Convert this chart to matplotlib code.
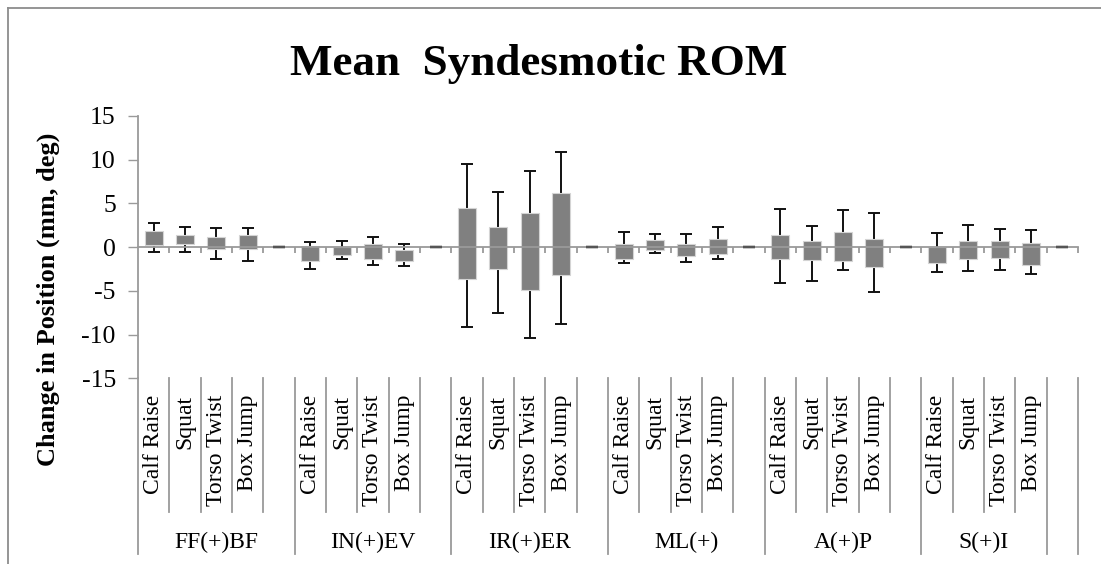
"""Mean syndesmotic ROM: floating range bars with error whiskers per motion/exercise."""
import matplotlib

matplotlib.use("Agg")
import matplotlib.pyplot as plt
import matplotlib.transforms as mtransforms
from matplotlib.lines import Line2D

plt.rcParams["font.family"] = ["Liberation Serif", "DejaVu Serif"]

EXERCISES = ["Calf Raise", "Squat", "Torso Twist", "Box Jump"]
MOTIONS = ["FF(+)BF", "IN(+)EV", "IR(+)ER", "ML(+)", "A(+)P", "S(+)I"]

# box top / bottom and whisker ends, one row per motion (mm, deg)
BAR_HIGH = [
    [1.84, 1.34, 1.11, 1.34],
    [0.12, 0.04, 0.35, -0.34],
    [4.45, 2.26, 3.87, 6.17],
    [0.35, 0.81, 0.38, 0.92],
    [1.38, 0.69, 1.77, 0.88],
    [0.04, 0.69, 0.73, 0.42],
]
BAR_LOW = [
    [0.23, 0.31, -0.26, -0.26],
    [-1.53, -0.88, -1.30, -1.61],
    [-3.67, -2.45, -4.90, -3.14],
    [-1.30, -0.34, -1.03, -0.77],
    [-1.34, -1.45, -1.53, -2.22],
    [-1.80, -1.34, -1.26, -1.99],
]
ERR_HIGH = [
    [2.76, 2.26, 2.19, 2.19],
    [0.61, 0.69, 1.15, 0.35],
    [9.54, 6.36, 8.70, 10.85],
    [1.69, 1.46, 1.50, 2.30],
    [4.37, 2.41, 4.22, 3.91],
    [1.65, 2.49, 2.03, 1.95],
]
ERR_LOW = [
    [-0.53, -0.61, -1.38, -1.64],
    [-2.45, -1.38, -2.03, -2.14],
    [-9.12, -7.55, -10.38, -8.77],
    [-1.84, -0.69, -1.72, -1.30],
    [-4.10, -3.83, -2.56, -5.09],
    [-2.83, -2.68, -2.64, -3.02],
]
Y_TICKS = [-15, -10, -5, 0, 5, 10, 15]

# category slots: 4 exercises + 1 blank per motion; last motion group only spans 4
SLOTS_PER_GROUP = 5
GROUP_EDGES = [0, 5, 10, 15, 20, 25, 29, 30]

BAR_COLOR = "#808080"
AXIS_GRAY = "#9a9a9a"
W, H = 1101, 564


def main():
    fig = plt.figure(figsize=(W / 100, H / 100), dpi=100)
    ax = fig.add_axes([138 / W, 1 - 378.3 / H, 940 / W, 262.3 / H])

    n_slots = SLOTS_PER_GROUP * len(MOTIONS)
    xs, lows, highs, elo, ehi, blanks = [], [], [], [], [], []
    for i in range(len(MOTIONS)):
        for j in range(len(EXERCISES)):
            xs.append(i * SLOTS_PER_GROUP + j)
            lows.append(BAR_LOW[i][j])
            highs.append(BAR_HIGH[i][j])
            elo.append(ERR_LOW[i][j])
            ehi.append(ERR_HIGH[i][j])
        blanks.append(i * SLOTS_PER_GROUP + len(EXERCISES))

    mids = [(a + b) / 2 for a, b in zip(lows, highs)]
    yerr = [[m - e for m, e in zip(mids, elo)], [e - m for m, e in zip(mids, ehi)]]
    ax.errorbar(xs, mids, yerr=yerr, fmt="none", ecolor="#111111",
                elinewidth=1.4, capsize=4.4, capthick=1.4, zorder=0.5)
    ax.bar(xs, [h - l for h, l in zip(highs, lows)], bottom=lows, width=0.58,
           color=BAR_COLOR, edgecolor="#d4d4d4", linewidth=0.8, zorder=1)
    # empty slots show as a zero-length whisker
    ax.errorbar(blanks, [0] * len(blanks), yerr=[0] * len(blanks), fmt="none",
                ecolor="#555555", capsize=4.4, capthick=1.7, zorder=3)

    ax.set_xlim(-0.5, n_slots - 0.5)
    ax.set_ylim(-15, 15)
    ax.set_yticks(Y_TICKS)
    ax.set_yticklabels([str(t) for t in Y_TICKS], fontsize=18.5)
    ax.tick_params(axis="y", direction="out", length=7, width=1,
                   color=AXIS_GRAY, pad=9)

    for s in ["top", "right"]:
        ax.spines[s].set_visible(False)
    ax.spines["bottom"].set_position(("data", 0))
    ax.spines["bottom"].set_color(AXIS_GRAY)
    ax.spines["bottom"].set_linewidth(1.3)
    ax.spines["left"].set_color(AXIS_GRAY)
    ax.spines["left"].set_linewidth(1.3)
    ax.set_xticks([k - 0.5 for k in range(1, n_slots + 1)])
    ax.set_xticklabels([])
    ax.tick_params(axis="x", direction="out", length=4.5, width=1.3,
                   color=AXIS_GRAY)

    ax.set_ylabel("Change in Position (mm, deg)", fontsize=19, fontweight="bold")
    ax.yaxis.set_label_coords(-0.083, 0.302)

    # multi-level category axis below the plot
    tr = mtransforms.blended_transform_factory(ax.transData, fig.transFigure)
    y_top = 1 - 378.3 / H
    y_short = 1 - 512 / H
    y_long = 1 - 554 / H
    for k in range(n_slots + 1):
        y_end = y_long if k in GROUP_EDGES else y_short
        fig.add_artist(Line2D([k - 0.5, k - 0.5], [y_top, y_end], transform=tr,
                              color=AXIS_GRAY, linewidth=1.3))
    for i in range(len(MOTIONS)):
        for j, name in enumerate(EXERCISES):
            fig.text(i * SLOTS_PER_GROUP + j, 1 - 395 / H, name, transform=tr,
                     rotation=90, ha="center", va="top", fontsize=17)
        cx = (GROUP_EDGES[i] + GROUP_EDGES[i + 1]) / 2 - 0.5
        fig.text(cx, 1 - 542 / H, MOTIONS[i], transform=tr,
                 ha="center", va="center", fontsize=17)

    fig.text(539 / W, 1 - 75 / H, "Mean  Syndesmotic ROM", ha="center",
             va="baseline", fontsize=32.5, fontweight="bold")

    # chart-area border (right and bottom edges fall outside the crop)
    fig.add_artist(Line2D([8 / W, 8 / W], [0, 1 - 8 / H], color="#8c8c8c",
                          linewidth=1.3, transform=fig.transFigure))
    fig.add_artist(Line2D([8 / W, 1], [1 - 8 / H, 1 - 8 / H], color="#8c8c8c",
                          linewidth=1.3, transform=fig.transFigure))

    fig.savefig("out.png", dpi=100)


if __name__ == "__main__":
    main()
